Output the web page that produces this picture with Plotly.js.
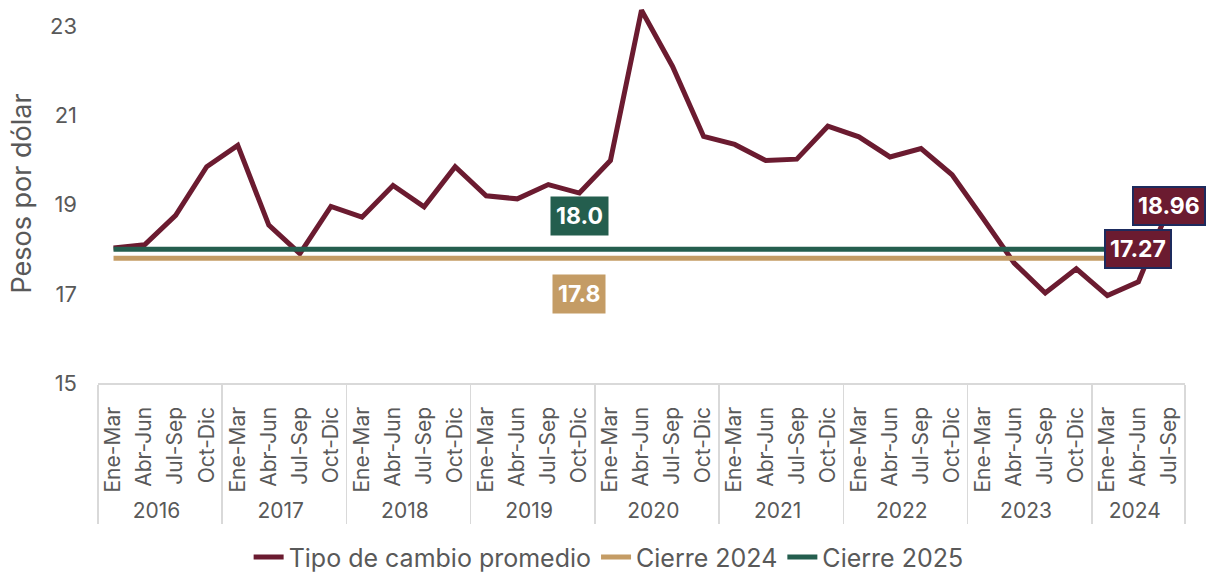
<!DOCTYPE html>
<html>
<head>
<meta charset="utf-8">
<script src="https://cdn.plot.ly/plotly-3.0.1.min.js"></script>
<style>
  html, body { margin: 0; padding: 0; background: #ffffff; }
  #chart { width: 1210px; height: 572px; }
</style>
</head>
<body>
<div id="chart"></div>
<script>
// ---- Data ----
const years = ['2016', '2017', '2018', '2019', '2020', '2021', '2022', '2023', '2024'];
const quarters = ['Ene-Mar', 'Abr-Jun', 'Jul-Sep', 'Oct-Dic'];
const quartersPerYear = [4, 4, 4, 4, 4, 4, 4, 4, 3];

// Tipo de cambio promedio (pesos por dólar), trimestral
const tipoCambio = [
  18.03, 18.10, 18.76, 19.85,   // 2016
  20.33, 18.54, 17.90, 18.96,   // 2017
  18.72, 19.43, 18.95, 19.85,   // 2018
  19.20, 19.13, 19.45, 19.26,   // 2019
  19.99, 23.36, 22.10, 20.53,   // 2020
  20.35, 19.99, 20.02, 20.76,   // 2021
  20.52, 20.07, 20.26, 19.67,   // 2022
  18.69, 17.69, 17.02, 17.56,   // 2023
  16.96, 17.27, 18.96           // 2024
];
const cierre2024 = 17.8;
const cierre2025 = 18.0;
const labelYear = '2019';
const labelQuarter = 'Oct-Dic';

// ---- Build multicategory x ----
const xYear = [], xQuarter = [];
years.forEach((y, i) => {
  for (let q = 0; q < quartersPerYear[i]; q++) { xYear.push(y); xQuarter.push(quarters[q]); }
});
const n = xYear.length;

const maroon = '#6B1B30';
const tan = '#C49C65';
const green = '#245E4E';
const gray = '#595959';
const FONT = 'Inter, "Open Sans", sans-serif';

const traces = [
  { type: 'scatter', mode: 'lines', name: 'Tipo de cambio promedio',
    x: [xYear, xQuarter], y: tipoCambio,
    line: { color: maroon, width: 5 } },
  { type: 'scatter', mode: 'lines', name: 'Cierre 2024',
    x: [xYear, xQuarter], y: xYear.map(() => cierre2024),
    line: { color: tan, width: 5 } },
  { type: 'scatter', mode: 'lines', name: 'Cierre 2025',
    x: [xYear, xQuarter], y: xYear.map(() => cierre2025),
    line: { color: green, width: 5 } }
];

const labelIdx = xYear.findIndex((y, i) => y === labelYear && xQuarter[i] === labelQuarter);
const last = n - 1;

const annFont = { family: FONT, size: 23, color: '#ffffff' };
const annotations = [
  { x: labelIdx, y: cierre2025, xref: 'x', yref: 'y', text: '<b>' + cierre2025.toFixed(1) + '</b>',
    showarrow: false, yshift: 33, bgcolor: green, borderpad: 5, font: annFont },
  { x: labelIdx, y: cierre2024, xref: 'x', yref: 'y', text: '<b>' + cierre2024.toFixed(1) + '</b>',
    showarrow: false, yshift: -36, bgcolor: tan, borderpad: 5, font: annFont },
  { x: last - 1, y: tipoCambio[last - 1], xref: 'x', yref: 'y', text: '<b>' + tipoCambio[last - 1].toFixed(2) + '</b>',
    showarrow: false, yshift: 33, bgcolor: maroon, bordercolor: '#1D2B5E', borderwidth: 2, borderpad: 4, font: annFont },
  { x: last, y: tipoCambio[last], xref: 'x', yref: 'y', text: '<b>' + tipoCambio[last].toFixed(2) + '</b>',
    showarrow: false, bgcolor: maroon, bordercolor: '#1D2B5E', borderwidth: 2, borderpad: 4, font: annFont }
];

const layout = {
  width: 1210, height: 572,
  margin: { l: 98, r: 25, t: 4, b: 189 },
  paper_bgcolor: '#ffffff', plot_bgcolor: '#ffffff',
  font: { family: FONT, color: gray },
  showlegend: true,
  legend: { orientation: 'h', xref: 'container', yref: 'container',
            x: 0.503, xanchor: 'center', y: 0.026, yanchor: 'middle',
            font: { family: FONT, size: 25, color: gray } },
  xaxis: {
    type: 'multicategory',
    range: [-0.5, n - 0.5],
    showgrid: false, zeroline: false,
    showline: true, linecolor: '#D9D9D9', linewidth: 1.5,
    showdividers: true, dividercolor: '#D9D9D9', dividerwidth: 1.5,
    tickangle: -90, ticks: '',
    ticklabelstandoff: 14,
    tickfont: { family: FONT, size: 21, color: gray },
    automargin: false
  },
  yaxis: {
    range: [15, 23.5], tickvals: [15, 17, 19, 21, 23],
    showgrid: false, zeroline: false, showline: false, ticks: '',
    ticklabelstandoff: 20,
    tickfont: { family: FONT, size: 22, color: gray },
    title: { text: 'Pesos por dólar', font: { family: FONT, size: 27, color: gray }, standoff: 10 },
    automargin: false
  },
  annotations: annotations
};

Plotly.newPlot('chart', traces, layout, { displayModeBar: false, staticPlot: true });
</script>
</body>
</html>
